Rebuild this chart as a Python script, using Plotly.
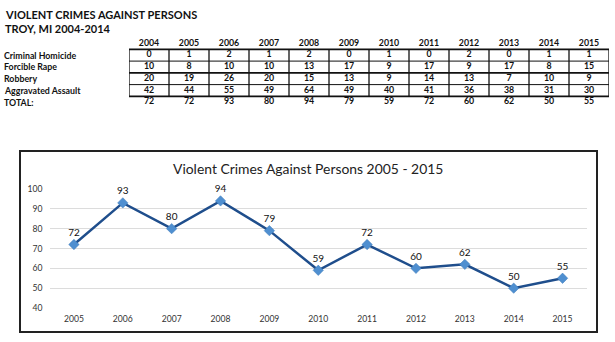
import plotly.graph_objects as go

W, H = 615, 342

table_years = [2004, 2005, 2006, 2007, 2008, 2009, 2010, 2011, 2012, 2013, 2014, 2015]
row_names = ["Criminal Homicide", "Forcible Rape", "Robbery", "Aggravated Assault", "TOTAL:"]
homicide = [0, 1, 2, 1, 2, 0, 1, 0, 2, 0, 1, 1]
rape = [10, 8, 10, 10, 13, 17, 9, 17, 9, 17, 8, 15]
robbery = [20, 19, 26, 20, 15, 13, 9, 14, 13, 7, 10, 9]
assault = [42, 44, 55, 49, 64, 49, 40, 41, 36, 38, 31, 30]
total = [72, 72, 93, 80, 94, 79, 59, 72, 60, 62, 50, 55]

chart_years = [str(y) for y in table_years[1:]]
chart_values = total[1:]
y_ticks = [40, 50, 60, 70, 80, 90, 100]

FONT = "Lato"

fig = go.Figure()

# ---- Line chart ----
fig.add_trace(go.Scatter(
    x=chart_years, y=chart_values, mode="lines+markers+text",
    text=[str(v) for v in chart_values], textposition="top center",
    textfont=dict(family=FONT, size=10, color="#111"),
    line=dict(color="#1F4E8C", width=2.5),
    marker=dict(symbol="diamond", size=8, color="#4F8FD0",
                line=dict(color="#3A78B8", width=0.5)),
    cliponaxis=False, showlegend=False, xaxis="x", yaxis="y"))

# ---- Table as text on its own axes ----
rows = [homicide, rape, robbery, assault, total]
tx, ty, tt = [], [], []
for i, yr in enumerate(table_years):
    tx.append(i); ty.append(0); tt.append(str(yr))
for r, vals in enumerate(rows):
    for i, v in enumerate(vals):
        tx.append(i); ty.append(r + 1); tt.append(str(v))
fig.add_trace(go.Scatter(
    x=tx, y=ty, text=["<b>%s</b>" % t for t in tt], mode="text",
    textfont=dict(family=FONT, size=8.8, color="#111"),
    showlegend=False, xaxis="x2", yaxis="y2", cliponaxis=False))

shapes = []
# table borders (rows 1..4)
for k in range(len(table_years) + 1):
    shapes.append(dict(type="line", xref="x2", yref="y2", x0=k - 0.5, x1=k - 0.5,
                       y0=0.5, y1=4.5, line=dict(color="#111", width=1.3)))
for r in range(5):
    w = 1.8 if r in (0, 2, 4) else 1.0
    shapes.append(dict(type="line", xref="x2", yref="y2", x0=-0.5, x1=len(table_years) - 0.5,
                       y0=r + 0.5, y1=r + 0.5, line=dict(color="#111", width=w)))
# chart border
shapes.append(dict(type="rect", xref="paper", yref="paper",
                   x0=20 / W, x1=597 / W, y0=1 - 332 / H, y1=1 - 151 / H,
                   line=dict(color="#222", width=2), layer="below"))
fig.update_layout(shapes=shapes)

annotations = [
    dict(text="<b>VIOLENT CRIMES AGAINST PERSONS</b>", x=3 / W, y=1 - 14 / H,
         xref="paper", yref="paper", xanchor="left", yanchor="middle", showarrow=False,
         font=dict(family=FONT, size=11, color="#111")),
    dict(text="<b>TROY, MI 2004-2014</b>", x=3 / W, y=1 - 29 / H,
         xref="paper", yref="paper", xanchor="left", yanchor="middle", showarrow=False,
         font=dict(family=FONT, size=11, color="#111")),
    dict(text="Violent Crimes Against Persons 2005 - 2015", x=308 / W, y=1 - 168 / H,
         xref="paper", yref="paper", xanchor="center", yanchor="middle", showarrow=False,
         font=dict(family=FONT, size=13.9, color="#222")),
]
for r, name in enumerate(row_names):
    annotations.append(dict(text="<b>%s</b>" % name, x=2 / W, y=r + 1, xref="paper", yref="y2",
                            xanchor="left", yanchor="middle", showarrow=False,
                            font=dict(family=FONT, size=8.8, color="#111")))

fig.update_layout(
    width=W, height=H, margin=dict(l=0, r=0, t=0, b=0),
    paper_bgcolor="white", plot_bgcolor="white",
    annotations=annotations,
    xaxis=dict(domain=[49.5 / W, 587 / W], type="category", showgrid=False,
               range=[-0.5, len(chart_years) - 0.5], automargin=False,
               showline=False, ticks="", ticklabelstandoff=4,
               tickfont=dict(family=FONT, size=8.6, color="#333")),
    yaxis=dict(domain=[1 - 308 / H, 1 - 189 / H], range=[40, 100], tickvals=y_ticks,
               showgrid=True, gridcolor="#DCDCDC", gridwidth=1, zeroline=False,
               automargin=False, ticklabelstandoff=6,
               showline=False, ticks="", tickfont=dict(family=FONT, size=8.6, color="#333")),
    xaxis2=dict(domain=[129 / W, 609 / W], range=[-0.5, len(table_years) - 0.5],
                visible=False, anchor="y2", automargin=False),
    yaxis2=dict(domain=[1 - 108.1 / H, 1 - 37.6 / H], range=[5.5, -0.5],
                visible=False, anchor="x2", automargin=False),
)

fig.write_html("out.html")
